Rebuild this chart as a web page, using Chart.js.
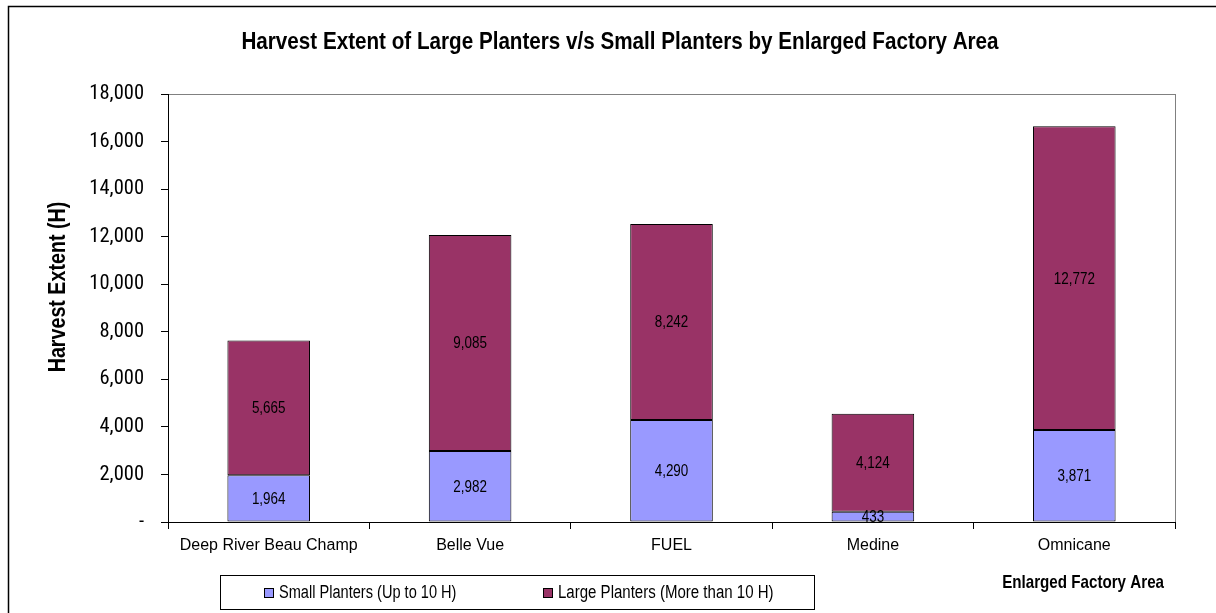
<!DOCTYPE html>
<html>
<head>
<meta charset="utf-8">
<script src="https://cdn.jsdelivr.net/npm/chart.js@4.4.1/dist/chart.umd.min.js"></script>
<style>
  body { margin: 0; background: #fff; }
  #wrap { width: 1216px; height: 613px; }
</style>
</head>
<body>
<div id="wrap"><canvas id="harvestChart" width="1216" height="613"></canvas></div>
<script>
const categories = ['Deep River Beau Champ', 'Belle Vue', 'FUEL', 'Medine', 'Omnicane'];
const smallPlanters = [1964, 2982, 4290, 433, 3871];
const largePlanters = [5665, 9085, 8242, 4124, 12772];
const yTicks = [0, 2000, 4000, 6000, 8000, 10000, 12000, 14000, 16000, 18000];

const sans = "'Liberation Sans', Arial, sans-serif";
const condensed = "'Roboto Condensed', 'Liberation Sans', sans-serif";

const fmt = v => v === 0 ? '-' : v.toLocaleString('en-US');

// no narrow Arial installed, so squeeze Liberation Sans horizontally
function narrowText(ctx, text, x, y, sx, rot) {
    ctx.save();
    ctx.translate(x, y);
    if (rot) ctx.rotate(rot);
    ctx.scale(sx, 1);
    ctx.fillText(text, 0, 0);
    ctx.restore();
}

const decorations = {
    id: 'decorations',
    beforeDraw(chart) {
        const { ctx, chartArea: a } = chart;
        ctx.save();
        ctx.fillStyle = '#fff';
        ctx.fillRect(0, 0, chart.width, chart.height);
        ctx.strokeStyle = '#000';
        ctx.lineWidth = 1.5;
        ctx.beginPath();
        ctx.moveTo(8.5, chart.height + 5);
        ctx.lineTo(8.5, 6.5);
        ctx.lineTo(chart.width + 5, 6.5);
        ctx.stroke();
        // grey plot frame (top / right)
        ctx.strokeStyle = '#808080';
        ctx.lineWidth = 1;
        ctx.strokeRect(a.left + 0.5, a.top + 0.5, a.right - a.left, a.bottom - a.top);
        ctx.restore();
    },
    afterDatasetsDraw(chart) {
        const { ctx } = chart;
        ctx.save();
        ctx.fillStyle = '#000';
        ctx.font = '16px ' + sans;
        ctx.textAlign = 'center';
        ctx.textBaseline = 'middle';
        chart.data.datasets.forEach((ds, i) => {
            chart.getDatasetMeta(i).data.forEach((bar, j) => {
                const { x, y, base } = bar.getProps(['x', 'y', 'base'], true);
                narrowText(ctx, fmt(ds.data[j]), x, (y + base) / 2 + 1, 0.84);
            });
        });
        ctx.restore();
    },
    afterDraw(chart) {
        const { ctx } = chart;
        ctx.save();
        ctx.fillStyle = '#000';
        ctx.textBaseline = 'middle';
        ctx.textAlign = 'center';

        // chart title
        ctx.font = 'bold 24px ' + sans;
        narrowText(ctx, 'Harvest Extent of Large Planters v/s Small Planters by Enlarged Factory Area', 620, 42, 0.86);

        // y axis title
        narrowText(ctx, 'Harvest Extent (H)', 58, 287, 0.82, -Math.PI / 2);

        // x axis title
        ctx.font = 'bold 18.5px ' + sans;
        ctx.textAlign = 'right';
        narrowText(ctx, 'Enlarged Factory Area', 1164, 583, 0.82);

        // legend box
        ctx.strokeStyle = '#000';
        ctx.lineWidth = 1;
        ctx.strokeRect(220.5, 575.5, 594, 34);
        ctx.font = '18px ' + sans;
        ctx.textAlign = 'left';
        const itemX = [264, 543];
        const textScale = [0.81, 0.835];
        chart.data.datasets.forEach((ds, i) => {
            ctx.fillStyle = ds.backgroundColor;
            ctx.fillRect(itemX[i], 588, 10, 10);
            ctx.strokeRect(itemX[i] + 0.5, 588.5, 9, 9);
            ctx.fillStyle = '#000';
            narrowText(ctx, ds.label, itemX[i] + 15, 593, textScale[i]);
        });
        ctx.restore();
    }
};

const ctx = document.getElementById('harvestChart').getContext('2d');
const harvestChart = new Chart(ctx, {
    type: 'bar',
    data: {
        labels: categories,
        datasets: [
            {
                label: 'Small Planters (Up to 10 H)',
                data: smallPlanters,
                backgroundColor: '#9999FF',
                borderColor: '#000',
                borderWidth: 1,
                borderSkipped: false
            },
            {
                label: 'Large Planters (More than 10 H)',
                data: largePlanters,
                backgroundColor: '#993366',
                borderColor: '#000',
                borderWidth: 1,
                borderSkipped: false
            }
        ]
    },
    options: {
        responsive: false,
        animation: false,
        layout: { padding: { left: 0, right: 41, top: 94, bottom: 0 } },
        barPercentage: 0.41,
        categoryPercentage: 1,
        plugins: {
            legend: { display: false },
            title: { display: false },
            tooltip: { enabled: false }
        },
        scales: {
            x: {
                stacked: true,
                afterFit: s => { s.height = 91; },
                border: { color: '#000', width: 1 },
                grid: { drawOnChartArea: false, color: '#000', tickLength: 7, offset: true },
                ticks: { color: '#000', padding: 7, font: { family: sans, size: 16 }, maxRotation: 0 }
            },
            y: {
                stacked: true,
                min: 0,
                max: 18000,
                afterFit: s => { s.width = 168; },
                afterBuildTicks: s => { s.ticks = yTicks.map(v => ({ value: v })); },
                border: { color: '#000', width: 1 },
                grid: { drawOnChartArea: false, color: '#000', tickLength: 7 },
                ticks: { color: '#000', padding: 17, font: { family: condensed, size: 20.5 }, callback: v => fmt(v) }
            }
        }
    },
    plugins: [decorations]
});
</script>
</body>
</html>
